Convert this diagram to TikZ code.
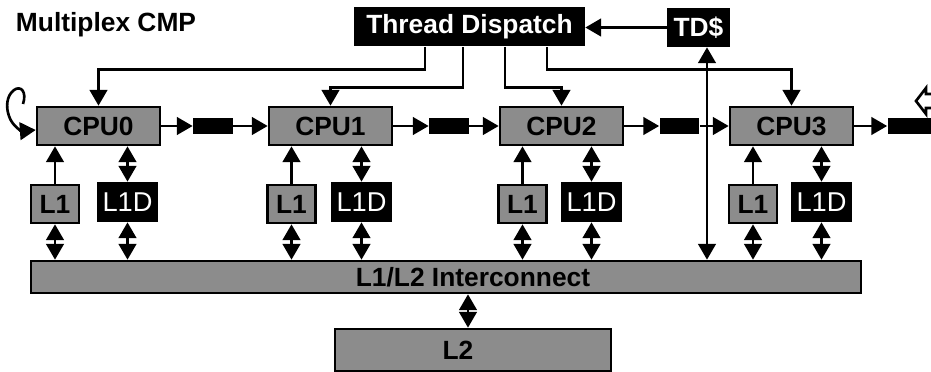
\documentclass[tikz,border=0pt]{standalone}
\usepackage{fontspec}
\setmainfont{Liberation Sans}
\usetikzlibrary{arrows.meta, calc, shapes}
\newcommand{\bigbf}{\fontsize{15}{18}\selectfont\bfseries}
\newcommand{\bigrm}{\fontsize{15.5}{18}\selectfont}
\tikzstyle{cpu} = [rectangle, minimum width=2.46cm, minimum height=0.76cm, inner sep=0pt, text centered, draw=black, line width=1.5pt, fill=black!45, font=\bigbf]
\tikzstyle{bar} = [rectangle, minimum width=0.8cm, minimum height=0.34cm, inner sep=0pt, fill=black]
\tikzstyle{icache} = [rectangle, minimum width=0.96cm, minimum height=0.76cm, inner sep=0pt, draw=black, line width=1.5pt, fill=black!45, font=\bigbf]
\tikzstyle{dcache} = [rectangle, minimum width=1.24cm, minimum height=0.8cm, inner sep=0pt, fill=black, text=white, font=\bigrm]
\tikzstyle{blackbox} = [rectangle, minimum height=0.8cm, inner sep=0pt, fill=black, text=white, font=\bigbf]
\tikzstyle{graybar} = [rectangle, inner sep=0pt, draw=black, line width=1.5pt, fill=black!45, font=\bigbf]
\tikzstyle{arrow} = [line width=1.5pt, ->, >={Triangle[length=9pt, width=10pt]}]
\tikzstyle{dblarrow} = [line width=1.5pt, <->, >={Triangle[length=9pt, width=10pt]}]

\begin{document}
\begin{tikzpicture}[x=0.02cm, y=-0.02cm]
\useasboundingbox (0, 0) rectangle (931, 372);

\node at (106, 25) (title) [font=\bigbf] {Multiplex CMP};

\node at (469.5, 26.5) (disp) [blackbox, minimum width=4.62cm] {Thread Dispatch};
\node at (698.5, 27.5) (tdc) [blackbox, minimum width=1.26cm, minimum height=0.78cm] {TD\$};

\node at (98.5, 126) (cpu0) [cpu] {CPU0};
\node at (330.5, 126) (cpu1) [cpu] {CPU1};
\node at (561.5, 126) (cpu2) [cpu] {CPU2};
\node at (791.5, 126) (cpu3) [cpu] {CPU3};

\node at (213, 126) (bar0) [bar] {};
\node at (449, 126) (bar1) [bar] {};
\node at (679.5, 126) (bar2) [bar] {};
\node at (910, 126) (bar3) [bar, minimum width=0.9cm] {};

\node at (55, 204) (l1i0) [icache] {L1};
\node at (291.5, 204) (l1i1) [icache] {L1};
\node at (522.5, 204) (l1i2) [icache] {L1};
\node at (753, 204) (l1i3) [icache] {L1};

\node at (127.5, 202) (l1d0) [dcache] {L1D};
\node at (361.5, 202) (l1d1) [dcache] {L1D};
\node at (591.5, 202) (l1d2) [dcache] {L1D};
\node at (821.5, 202) (l1d3) [dcache] {L1D};

\node at (446, 277) (ic) [graybar, minimum width=16.6cm, minimum height=0.64cm] {\hspace*{1.08cm}L1/L2 Interconnect};
\node at (473, 350) (l2) [graybar, minimum width=5.52cm, minimum height=0.84cm] {L2\hspace*{0.6cm}};

\coordinate (tdbus) at ($(tdc.south)+(8.5,0)$);
\coordinate (l2bus) at ($(l2.north)+(-5,0)$);
\coordinate (curl) at (23, 104);

% dispatch to the cores
\draw [arrow] (tdc.west) -- (tdc.west -| disp.east);
\draw [arrow] ($(disp.south)+(-44.5,0)$) |- ($(cpu0.north)+(0,-36)$) -- (cpu0.north);
\draw [arrow] ($(disp.south)+(-6.5,0)$) |- ($(cpu1.north)+(0,-18)$) -- (cpu1.north);
\draw [arrow] ($(disp.south)+(35.5,0)$) |- ($(cpu2.north)+(0,-18)$) -- (cpu2.north);
\draw [arrow] ($(disp.south)+(77.5,0)$) |- ($(cpu3.north)+(0,-36)$) -- (cpu3.north);
\draw [dblarrow] (tdbus) -- (tdbus |- ic.north);

% ring of cores
\draw [arrow] (curl) .. controls (27, 92) and (21, 85) .. (14, 90) .. controls (6, 96) and (6, 108) .. (9, 116) .. controls (12, 126) and (22, 131) .. ($(cpu0.west)+(0,4)$);
\draw [arrow] (cpu0.east) -- (bar0.west);
\draw [arrow] (bar0.east) -- (cpu1.west);
\draw [arrow] (cpu1.east) -- (bar1.west);
\draw [arrow] (bar1.east) -- (cpu2.west);
\draw [arrow] (cpu2.east) -- (bar2.west);
\draw [arrow] (bar2.east) -- (cpu3.west);
\draw [arrow] (cpu3.east) -- (bar3.west);
\draw [line width=1.5pt, line join=miter] (931, 94) -- (926, 94) -- (926, 88) -- (916, 101) -- (926, 114) -- (926, 108) -- (931, 108);

% caches
\draw [arrow] (l1i0.north) -- (l1i0.north |- cpu0.south);
\draw [arrow] (l1i1.north) -- (l1i1.north |- cpu1.south);
\draw [arrow] (l1i2.north) -- (l1i2.north |- cpu2.south);
\draw [arrow] (l1i3.north) -- (l1i3.north |- cpu3.south);
\draw [dblarrow] (l1d0.north) -- (l1d0.north |- cpu0.south);
\draw [dblarrow] (l1d1.north) -- (l1d1.north |- cpu1.south);
\draw [dblarrow] (l1d2.north) -- (l1d2.north |- cpu2.south);
\draw [dblarrow] (l1d3.north) -- (l1d3.north |- cpu3.south);

\draw [dblarrow] (l1i0.south) -- (l1i0.south |- ic.north);
\draw [dblarrow] (l1i1.south) -- (l1i1.south |- ic.north);
\draw [dblarrow] (l1i2.south) -- (l1i2.south |- ic.north);
\draw [dblarrow] (l1i3.south) -- (l1i3.south |- ic.north);
\draw [dblarrow] (l1d0.south) -- (l1d0.south |- ic.north);
\draw [dblarrow] (l1d1.south) -- (l1d1.south |- ic.north);
\draw [dblarrow] (l1d2.south) -- (l1d2.south |- ic.north);
\draw [dblarrow] (l1d3.south) -- (l1d3.south |- ic.north);

\draw [dblarrow] (l2bus) -- (l2bus |- ic.south);

\end{tikzpicture}
\end{document}
